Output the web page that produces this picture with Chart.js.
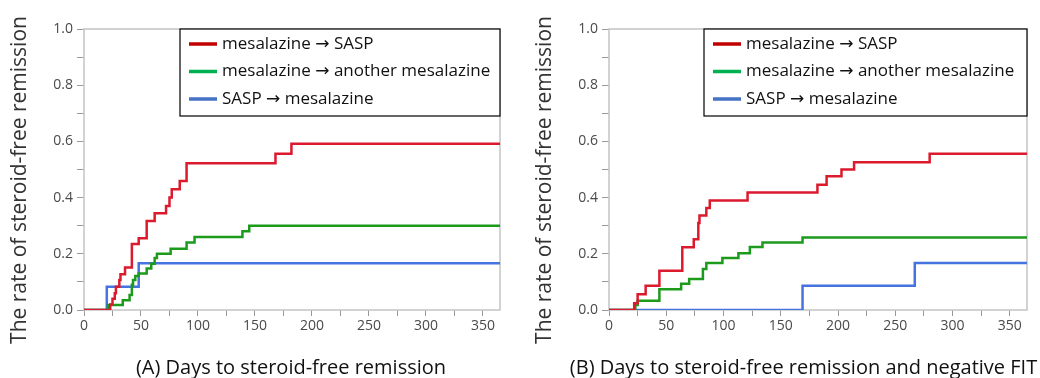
<!DOCTYPE html>
<html>
<head>
<meta charset="utf-8">
<script src="https://cdn.jsdelivr.net/npm/chart.js@4.4.1/dist/chart.umd.min.js"></script>
<style>
  html, body { margin: 0; padding: 0; background: #fff; overflow: hidden; }
  #wrap { position: relative; width: 1040px; height: 378px; }
  canvas { position: absolute; top: 0; }
  #chartA { left: 0; }
  #chartB { left: 520px; }
</style>
</head>
<body>
<div id="wrap">
  <canvas id="chartA" width="520" height="378"></canvas>
  <canvas id="chartB" width="520" height="378"></canvas>
</div>
<script>
// Series labels and colours
const seriesLabels = ["mesalazine \u2192 SASP", "mesalazine \u2192 another mesalazine", "SASP \u2192 mesalazine"];
const lineColors = ["#dc1a2e", "#1c9a1c", "#4573e0"];
const legendColors = ["#c00000", "#00b050", "#4472c4"];

// Axis ticks and titles
const yTicks = [0, 0.2, 0.4, 0.6, 0.8, 1.0];
const xTicks = [0, 50, 100, 150, 200, 250, 300, 350];
const yTitle = "The rate of steroid-free remission";
const xTitleA = "(A) Days to steroid-free remission";
const xTitleB = "(B) Days to steroid-free remission and negative FIT";

// (A) Days to steroid-free remission
const daysA_red = [0, 23, 25, 27, 28, 31, 32, 36, 42, 48, 55, 62, 72, 75, 77, 84, 90, 168, 182, 365];
const rateA_red = [0, 0.02, 0.04, 0.06, 0.083, 0.107, 0.127, 0.151, 0.235, 0.255, 0.317, 0.344, 0.37, 0.40, 0.43, 0.459, 0.522, 0.556, 0.592, 0.592];
const daysA_green = [0, 21, 34, 40, 42, 43, 45, 48, 55, 59, 62, 64, 76, 90, 97, 139, 145, 365];
const rateA_green = [0, 0.018, 0.035, 0.053, 0.09, 0.107, 0.121, 0.13, 0.148, 0.165, 0.185, 0.2, 0.218, 0.24, 0.26, 0.28, 0.30, 0.30];
const daysA_blue = [0, 20, 48, 365];
const rateA_blue = [0, 0.083, 0.166, 0.166];

// (B) Days to steroid-free remission and negative FIT
const daysB_red = [0, 22, 25, 32, 44, 64, 74, 78, 79, 85, 88, 121, 182, 190, 203, 214, 280, 365];
const rateB_red = [0, 0.024, 0.056, 0.086, 0.14, 0.223, 0.252, 0.31, 0.336, 0.363, 0.39, 0.418, 0.446, 0.476, 0.50, 0.526, 0.556, 0.556];
const daysB_green = [0, 23, 25, 44, 63, 70, 82, 85, 99, 113, 123, 134, 169, 365];
const rateB_green = [0, 0.018, 0.033, 0.074, 0.093, 0.11, 0.146, 0.167, 0.185, 0.202, 0.224, 0.24, 0.258, 0.258];
const daysB_blue = [0, 169, 267, 365];
const rateB_blue = [0, 0.086, 0.167, 0.167];

// Open Sans has no arrow glyph, DejaVu Sans fills it in
const FONT = "'Open Sans', 'DejaVu Sans', sans-serif";

// pair days/rates into {x, y} points
function toPoints(days, rates) {
  return days.map((d, i) => ({ x: d, y: rates[i] }));
}

// gray frame round the plot area
const framePlugin = {
  id: "frame",
  beforeDatasetsDraw(chart) {
    const a = chart.chartArea;
    const ctx = chart.ctx;
    ctx.save();
    ctx.strokeStyle = "#c4c4c4";
    ctx.lineWidth = 1.5;
    ctx.strokeRect(a.left, a.top, a.right - a.left, a.bottom - a.top);
    ctx.restore();
  },
};

// axis titles; the built-in scale title squeezes text to the plot width,
// and caption (B) is wider than its plot, so they are drawn here
const captionsPlugin = {
  id: "captions",
  afterDraw(chart, args, opts) {
    const a = chart.chartArea;
    const ctx = chart.ctx;
    ctx.save();
    ctx.textAlign = "center";
    ctx.textBaseline = "middle";
    // x title under the tick labels
    ctx.fillStyle = "#111";
    ctx.font = "20px " + FONT;
    ctx.fillText(opts.xText, (a.left + a.right) / 2 + opts.xShift, 368);
    // y title, rotated
    ctx.fillStyle = "#333";
    ctx.font = "21px " + FONT;
    ctx.translate(a.left - 63.5, (a.top + a.bottom) / 2 + 10.5);
    ctx.rotate(-Math.PI / 2);
    ctx.fillText(yTitle, 0, 0);
    ctx.restore();
  },
};

// boxed legend in the top right corner of the plot
const boxLegendPlugin = {
  id: "boxLegend",
  afterDraw(chart, args, opts) {
    const a = chart.chartArea;
    const ctx = chart.ctx;
    const w = opts.width;
    const h = 87;
    const left = a.right - w;
    const top = a.top;
    ctx.save();
    ctx.fillStyle = "#fff";
    ctx.fillRect(left, top, w, h);
    ctx.beginPath();
    ctx.rect(left, top, w, h);
    ctx.clip();
    ctx.font = "17px " + FONT;
    ctx.textBaseline = "middle";
    seriesLabels.forEach((label, i) => {
      const y = top + 15 + i * 27.5;
      ctx.strokeStyle = legendColors[i];
      ctx.lineWidth = 3.5;
      ctx.beginPath();
      ctx.moveTo(left + 9, y);
      ctx.lineTo(left + 37, y);
      ctx.stroke();
      ctx.fillStyle = "#111";
      ctx.fillText(label, left + 42, y);
    });
    ctx.restore();
    ctx.save();
    ctx.strokeStyle = "#000";
    ctx.lineWidth = 1.2;
    ctx.strokeRect(left, top, w, h);
    ctx.restore();
  },
};

function makeChart(canvasId, series, xTitle, xShift, plotLeft, padRight, legendWidth) {
  return new Chart(document.getElementById(canvasId), {
    type: "line",
    data: {
      datasets: series.map((s, i) => ({
        label: seriesLabels[i],
        data: toPoints(s[0], s[1]),
        borderColor: lineColors[i],
        backgroundColor: lineColors[i],
        borderWidth: 2.5,
        pointRadius: 0,
        stepped: "before",
        fill: false,
      })),
    },
    options: {
      responsive: false,
      animation: false,
      devicePixelRatio: 1,
      layout: { padding: { top: 29, right: padRight, bottom: 0, left: 0 } },
      plugins: {
        legend: { display: false },
        tooltip: { enabled: false },
        boxLegend: { width: legendWidth },
        captions: { xText: xTitle, xShift: xShift },
      },
      scales: {
        x: {
          type: "linear",
          min: 0,
          max: 365,
          afterFit: (scale) => { scale.height = 68; },
          border: { display: false },
          grid: { drawOnChartArea: false, drawTicks: true, tickLength: 6, color: "#9a9a9a" },
          ticks: {
            stepSize: 25,
            includeBounds: false,
            maxRotation: 0,
            autoSkip: false,
            padding: 2,
            color: "#4a4a4a",
            font: { family: FONT, size: 14 },
            callback: (v) => (xTicks.includes(v) ? String(v) : ""),
          },
          title: { display: false, text: xTitle },
        },
        y: {
          min: 0,
          max: 1,
          afterFit: (scale) => { scale.width = plotLeft; },
          border: { display: false },
          grid: { drawOnChartArea: false, drawTicks: true, tickLength: 7, color: "#9a9a9a" },
          ticks: {
            stepSize: 0.1,
            autoSkip: false,
            padding: 4,
            color: "#4a4a4a",
            font: { family: FONT, size: 14 },
            callback: (v) => {
              const r = Math.round(v * 10) / 10;
              return yTicks.some((t) => Math.abs(t - r) < 1e-9) ? r.toFixed(1) : "";
            },
          },
          title: { display: false, text: yTitle },
        },
      },
    },
    plugins: [framePlugin, captionsPlugin, boxLegendPlugin],
  });
}

makeChart(
  "chartA",
  [[daysA_red, rateA_red], [daysA_green, rateA_green], [daysA_blue, rateA_blue]],
  xTitleA,
  -1,
  84,
  20,
  320
);

makeChart(
  "chartB",
  [[daysB_red, rateB_red], [daysB_green, rateB_green], [daysB_blue, rateB_blue]],
  xTitleB,
  -14.5,
  89,
  13,
  323
);
</script>
</body>
</html>
